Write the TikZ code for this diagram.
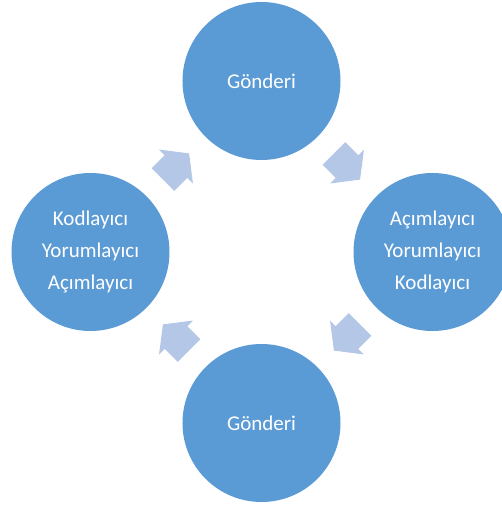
\documentclass[tikz,border=0pt]{standalone}
\usepackage{fontspec}
\setmainfont{Carlito}
\usetikzlibrary{calc}
\definecolor{circleblue}{HTML}{5B9BD5}
\definecolor{arrowblue}{HTML}{B4C7E7}
\begin{document}
\begin{tikzpicture}[
        x=1pt, y=1pt,
        every node/.style={circle, fill=circleblue, minimum size=158pt, inner sep=0pt,
            text=white, align=center, font=\fontsize{21}{32}\selectfont},
        cyclearrow/.pic={
            \fill[arrowblue] (-18.5,-16) -- (0,-16) -- (0,-24) -- (18.5,0)
                -- (0,24) -- (0,16) -- (-18.5,16) -- cycle;
        },
    ]
    \clip (-261.5,-254) rectangle (240.5,252);

    \node (top) at (0,171) {Gönderi};
    \node (right) at (171,0) {Açımlayıcı\\Yorumlayıcı\\Kodlayıcı};
    \node (bottom) at (0,-171) {Gönderi};
    \node (left) at (-171,0) {Kodlayıcı\\Yorumlayıcı\\Açımlayıcı};

    \pic[rotate=45] at ($(left)!0.5!(top)$) {cyclearrow};
    \pic[rotate=-45] at ($(top)!0.5!(right)$) {cyclearrow};
    \pic[rotate=-135] at ($(right)!0.5!(bottom)$) {cyclearrow};
    \pic[rotate=135] at ($(bottom)!0.5!(left)$) {cyclearrow};
\end{tikzpicture}
\end{document}
